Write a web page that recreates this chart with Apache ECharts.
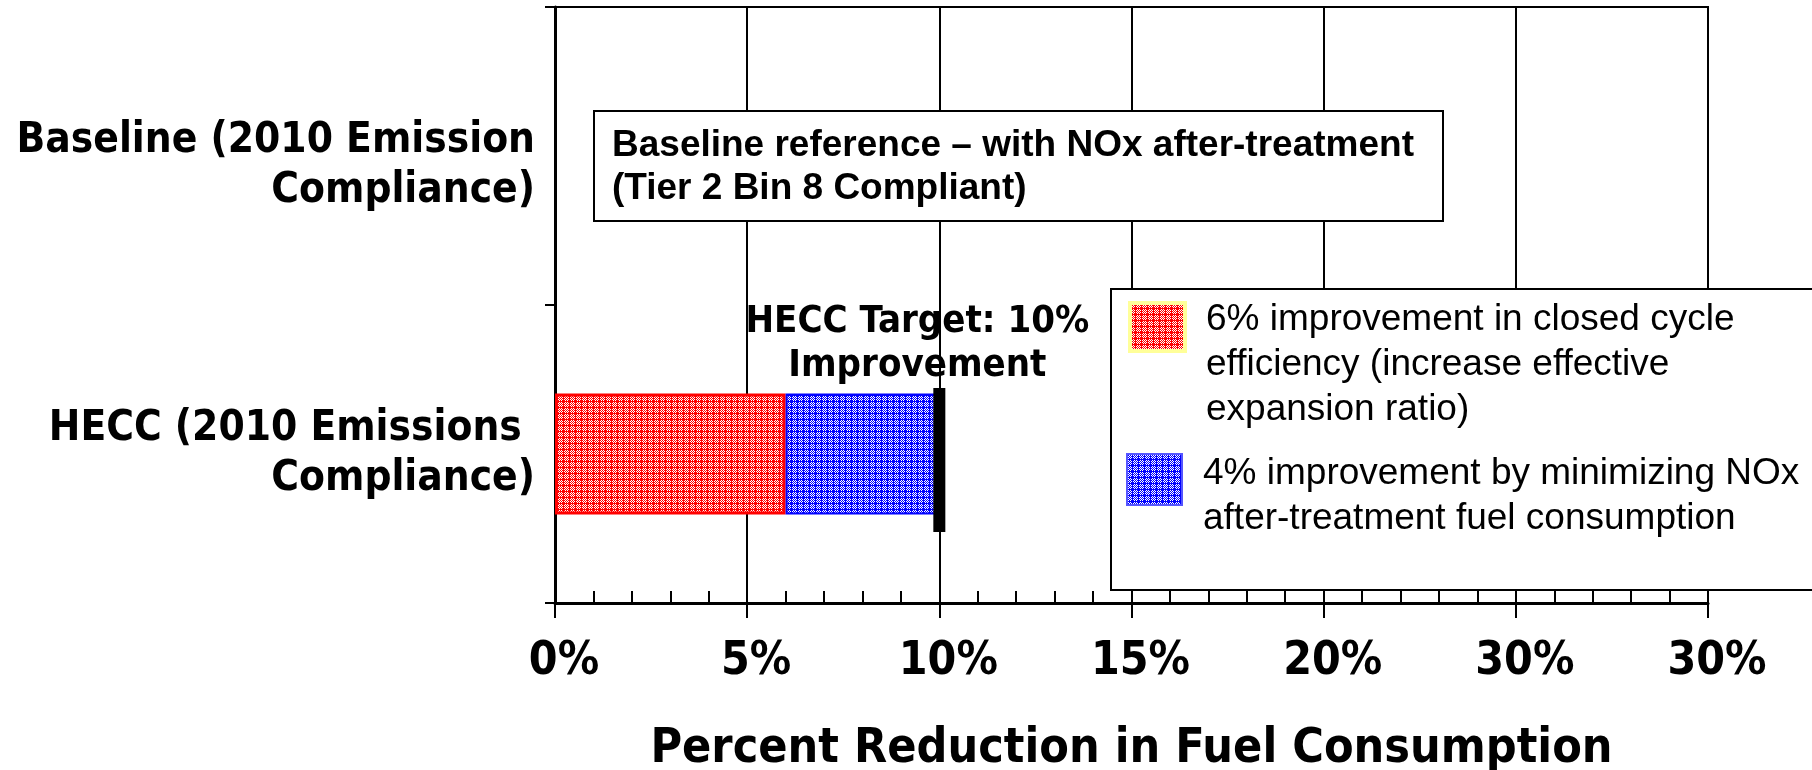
<!DOCTYPE html>
<html>
<head>
<meta charset="utf-8">
<script src="https://cdn.jsdelivr.net/npm/echarts@6/dist/echarts.min.js"></script>
<style>
  html, body { margin: 0; padding: 0; background: #fff; }
  #chart { width: 1812px; height: 770px; }
</style>
</head>
<body>
<div id="chart"></div>
<script>
// Engine configurations (y categories, top to bottom)
const categories = ['Baseline (2010 Emission\nCompliance)', 'HECC (2010 Emissions \nCompliance)'];
// Fuel-consumption reduction components, in percent
const closedCycleGain = ['-', 6];
const aftertreatmentGain = ['-', 4];
const targetValue = 10;
// X tick labels at 0, 5, 10, ... 30
const tickLabels = ['0%', '5%', '10%', '15%', '20%', '30%', '30%'];
const seriesNames = [
  '6% improvement in closed cycle\nefficiency (increase effective\nexpansion ratio)',
  '4% improvement by minimizing NOx\nafter-treatment fuel consumption'
];
const targetText = 'HECC Target: 10%\nImprovement';
const baselineNote = 'Baseline reference \u2013 with NOx after-treatment\n(Tier 2 Bin 8 Compliant)';
const axisTitle = 'Percent Reduction in Fuel Consumption';

const heavy = "'DejaVu Sans Condensed', 'DejaVu Sans', sans-serif";
const arial = "'Liberation Sans', Arial, sans-serif";

// Small dotted fill used by the stacked bars
function dotted(color) {
  const n = 6;
  const c = document.createElement('canvas');
  c.width = n; c.height = n;
  const g = c.getContext('2d');
  g.fillStyle = '#ffffff';
  g.fillRect(0, 0, n, n);
  g.fillStyle = color;
  for (let y = 0; y < n; y++) {
    for (let x = 0; x < n; x++) {
      if ((x + y) % 2 === 0 || x === n - 1 || y === n - 1) g.fillRect(x, y, 1, 1);
    }
  }
  return { image: c, repeat: 'repeat' };
}

const chart = echarts.init(document.getElementById('chart'), null, { renderer: 'canvas' });

const legendText = (padTop) => ({
  padding: [padTop, 0, 0, 16],
  fontFamily: arial, fontSize: 37, lineHeight: 45, color: '#000',
  rich: { t: { fontFamily: arial, fontSize: 37, lineHeight: 45, color: '#000' } }
});

const catLabel = { fontFamily: heavy, fontWeight: 'bold', fontSize: 42, lineHeight: 50, color: '#000' };

chart.setOption({
  animation: false,
  backgroundColor: '#fff',
  grid: {
    left: 555, right: 104, top: 7, bottom: 167,
    show: true, borderColor: '#000', borderWidth: 2,
    outerBoundsMode: 'none'
  },
  xAxis: [
    {
      type: 'value', min: 0, max: 30, interval: 5,
      axisLine: { show: true, lineStyle: { color: '#000', width: 3 } },
      axisTick: { show: true, length: 15, lineStyle: { color: '#000', width: 2 } },
      splitLine: { show: true, lineStyle: { color: '#000', width: 2 } },
      axisLabel: {
        margin: 36, padding: [0, 0, 0, 18],
        color: '#000', fontFamily: heavy, fontWeight: 'bold', fontSize: 46,
        formatter: (v) => tickLabels[Math.round(v / 5)]
      },
      name: axisTitle, nameLocation: 'middle', nameGap: 123,
      nameTextStyle: { color: '#000', fontFamily: heavy, fontWeight: 'bold', fontSize: 48 }
    },
    {
      // minor ticks every 1%, pointing into the plot
      type: 'value', min: 0, max: 30, interval: 1, position: 'bottom',
      axisLine: { show: false },
      axisTick: { show: true, inside: true, length: 12, lineStyle: { color: '#000', width: 2 } },
      splitLine: { show: false },
      axisLabel: { show: false }
    }
  ],
  yAxis: {
    type: 'category', inverse: true,
    data: [
      { value: categories[0], textStyle: { padding: [20, 0, 0, 0] } },
      { value: categories[1] }
    ],
    axisLine: { show: true, lineStyle: { color: '#000', width: 3 } },
    axisTick: { show: true, length: 10, lineStyle: { color: '#000', width: 2 } },
    axisLabel: Object.assign({
      margin: 20, align: 'right',
      formatter: (v) => '{c|' + v + '}',
      rich: { c: catLabel }
    }, catLabel)
  },
  legend: [
    {
      data: [{ name: seriesNames[0], itemStyle: { borderColor: '#ffff99', borderWidth: 4 } }],
      orient: 'vertical', left: 1128, top: 221.5, padding: 0,
      icon: 'rect', itemWidth: 55, itemHeight: 48, selectedMode: false, z: 6,
      formatter: (n) => '{t|' + n + '}',
      textStyle: legendText(76)
    },
    {
      data: [{ name: seriesNames[1], itemStyle: { borderColor: '#5555ff', borderWidth: 2 } }],
      orient: 'vertical', left: 1126, top: 417.5, padding: 0,
      icon: 'rect', itemWidth: 55, itemHeight: 51, selectedMode: false, z: 6,
      formatter: (n) => '{t|' + n + '}',
      textStyle: legendText(34)
    }
  ],
  graphic: [
    {
      type: 'rect', left: 1110, top: 288, z: 5,
      shape: { width: 720, height: 301 },
      style: { fill: '#fff', stroke: '#000', lineWidth: 2 }
    },
    {
      type: 'rect', left: 593, top: 110, z: 5,
      shape: { width: 849, height: 110 },
      style: { fill: '#fff', stroke: '#000', lineWidth: 2 }
    },
    {
      type: 'text', left: 612, top: 124, z: 6,
      style: {
        text: baselineNote, fill: '#000',
        font: 'bold 37px ' + arial, lineHeight: 43
      }
    }
  ],
  series: [
    {
      name: seriesNames[0], type: 'bar', stack: 'gain', barWidth: 121,
      data: closedCycleGain,
      itemStyle: { color: dotted('#ff0000'), borderColor: '#ff0000', borderWidth: 3 },
      z: 2
    },
    {
      name: seriesNames[1], type: 'bar', stack: 'gain', barWidth: 121,
      data: aftertreatmentGain,
      itemStyle: { color: dotted('#0000ff'), borderColor: '#0000ff', borderWidth: 2 },
      z: 2
    },
    {
      name: 'HECC Target', type: 'scatter',
      data: [[targetValue, 1]],
      symbol: 'rect', symbolSize: [12, 144], symbolOffset: [0, 6],
      itemStyle: { color: '#000', opacity: 1 },
      z: 3, silent: true,
      label: {
        show: true, position: 'top', distance: 0, offset: [-22, 0],
        formatter: targetText, align: 'center', opacity: 1,
        color: '#000', fontFamily: heavy, fontWeight: 'bold', fontSize: 38, lineHeight: 44
      }
    }
  ]
});
</script>
</body>
</html>
